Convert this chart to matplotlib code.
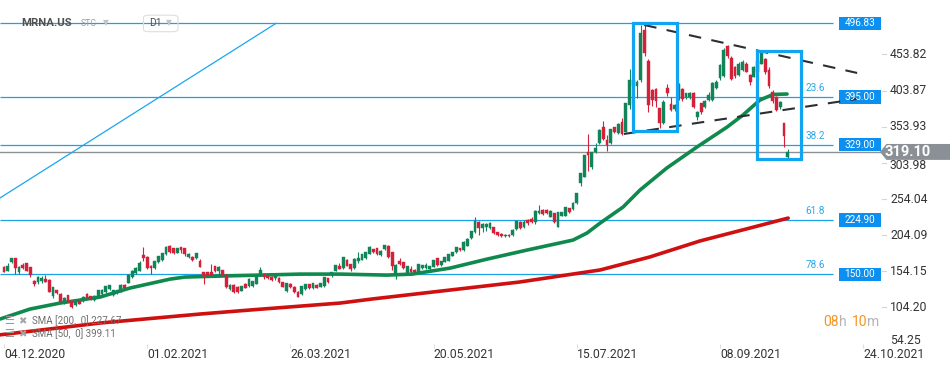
import numpy as np
import matplotlib.pyplot as plt
from matplotlib.patches import Rectangle, Polygon, FancyBboxPatch

plt.rcParams['font.family'] = ['Roboto', 'DejaVu Sans']

# daily candles, one per trading day, first bar = 04.12.2020
opens = [159.6, 155.0, 166.5, 172.1, 152.7, 162.8, 165.1, 159.6, 140.3, 138.9,
         141.2, 143.5, 142.1, 120.5, 128.3, 122.8, 110.8, 120.9, 113.1, 107.6,
         113.6, 112.6, 122.8, 119.5, 114.0, 120.0, 123.2, 125.1, 129.7, 121.4,
         123.7, 126.0, 135.2, 138.4, 146.7, 151.3, 155.0, 176.7, 174.4, 161.5,
         158.2, 166.5, 169.7, 178.0, 189.1, 185.9, 179.9, 187.3, 185.9, 173.4,
         174.4, 172.1, 168.4, 152.7, 152.7, 152.7, 161.0, 154.5, 155.9, 149.0,
         129.2, 135.2, 132.9, 127.4, 136.6, 133.8, 133.8, 137.1, 149.0, 149.0,
         148.1, 146.3, 144.4, 145.3, 139.4, 126.9, 136.6, 132.9, 126.0, 122.3,
         129.7, 136.1, 130.6, 135.7, 132.9, 133.8, 144.4, 148.9, 154.5, 161.9,
         159.1, 169.7, 163.7, 159.1, 168.8, 170.1, 172.0, 178.4, 184.4, 185.8,
         176.1, 184.9, 189.0, 180.3, 149.9, 168.3, 166.5, 152.2, 157.2, 155.9,
         152.6, 158.6, 158.2, 157.2, 160.5, 172.0, 162.8, 167.4, 168.8, 175.7,
         180.3, 186.3, 183.5, 189.5, 199.6, 207.9, 221.7, 213.4, 215.3, 213.4,
         214.9, 208.0, 206.0, 203.0, 205.0, 204.3, 212.2, 222.7, 214.9, 225.0,
         226.0, 221.8, 234.3, 238.9, 238.9, 229.7, 234.3, 215.8, 231.0, 231.0,
         241.1, 239.8, 248.1, 276.6, 284.9, 319.4, 298.7, 318.5, 331.0, 353.1,
         335.6, 331.0, 353.1, 344.8, 360.9, 347.1, 384.0, 418.0, 410.0, 418.5,
         487.6, 445.2, 404.7, 405.6, 379.3, 358.6, 406.9, 385.3, 378.0, 393.0,
         406.1, 394.5, 394.5, 400.1, 367.8, 386.2, 381.6, 390.9, 390.9, 408.0,
         420.8, 424.0, 465.0, 449.0, 437.0, 425.0, 432.0, 441.0, 426.0, 423.0,
         430.0, 441.0, 447.0, 432.0, 402.0, 395.0, 381.0, 358.6, 312.5]
highs = [162.0, 166.0, 173.0, 173.0, 161.0, 165.6, 166.0, 160.0, 142.1, 148.0,
         147.2, 149.0, 143.0, 133.0, 129.0, 123.5, 118.5, 121.5, 114.0, 115.0,
         114.5, 119.5, 124.0, 120.5, 121.5, 128.5, 129.5, 134.5, 135.5, 128.5,
         128.5, 136.0, 136.0, 150.0, 156.0, 160.0, 168.4, 187.3, 175.0, 162.5,
         169.0, 175.5, 180.0, 189.0, 190.0, 187.0, 187.0, 188.0, 187.0, 179.0,
         175.5, 180.0, 171.5, 153.5, 153.5, 163.8, 162.0, 161.0, 156.5, 150.0,
         136.0, 136.0, 134.0, 134.5, 137.5, 144.5, 141.0, 149.0, 160.1, 152.0,
         149.0, 147.0, 150.0, 146.0, 140.0, 138.5, 137.5, 133.5, 127.0, 134.5,
         137.0, 137.0, 138.0, 136.5, 138.5, 146.5, 145.0, 153.5, 163.5, 165.0,
         174.5, 170.5, 164.5, 172.0, 180.2, 178.5, 181.0, 188.5, 185.0, 186.5,
         183.0, 190.5, 190.0, 181.0, 164.0, 172.0, 167.5, 162.0, 161.0, 157.0,
         164.5, 163.5, 166.0, 162.0, 170.0, 172.5, 169.0, 174.0, 178.5, 181.0,
         188.0, 187.0, 196.0, 200.0, 210.5, 229.1, 223.5, 221.0, 221.0, 222.0,
         216.0, 209.0, 207.0, 206.0, 206.0, 212.0, 224.5, 224.0, 225.0, 226.0,
         228.7, 238.5, 246.3, 240.0, 240.0, 238.5, 235.0, 236.5, 236.5, 243.5,
         242.0, 250.0, 262.5, 290.5, 315.5, 343.3, 319.5, 330.8, 350.5, 361.4,
         342.6, 351.0, 354.0, 358.5, 366.0, 387.0, 434.0, 421.0, 418.0, 494.5,
         497.5, 447.0, 406.0, 407.0, 380.0, 391.0, 413.0, 395.4, 386.0, 414.0,
         407.0, 401.0, 401.5, 402.0, 376.0, 387.0, 391.0, 402.0, 416.0, 418.0,
         440.0, 462.0, 467.0, 452.0, 438.0, 443.0, 446.0, 443.0, 427.0, 438.0,
         447.0, 460.0, 449.0, 437.0, 404.0, 397.0, 390.0, 359.5, 322.5]
lows = [152.7, 154.0, 165.0, 151.0, 151.0, 157.0, 154.0, 145.8, 134.3, 137.0,
        138.0, 139.0, 125.0, 117.7, 123.0, 111.0, 109.5, 111.5, 104.0, 105.7,
        108.5, 111.5, 116.0, 115.0, 113.0, 119.0, 122.0, 124.0, 128.5, 120.5,
        122.5, 125.0, 130.5, 137.5, 145.5, 150.0, 154.0, 168.4, 158.0, 150.4,
        157.0, 165.5, 168.5, 177.0, 180.0, 178.5, 179.0, 179.9, 175.0, 172.0,
        169.0, 171.0, 159.5, 136.0, 147.0, 148.0, 153.0, 145.8, 147.0, 131.0,
        128.5, 124.6, 124.0, 126.5, 130.5, 132.5, 133.0, 136.0, 148.0, 143.5,
        143.0, 141.0, 142.0, 138.0, 132.0, 126.0, 131.0, 124.0, 118.0, 121.5,
        129.0, 129.5, 130.0, 131.0, 132.0, 133.0, 138.0, 146.0, 154.0, 157.0,
        158.0, 161.0, 155.0, 158.0, 165.5, 169.5, 171.0, 177.5, 179.5, 176.5,
        175.0, 184.0, 172.5, 155.4, 144.1, 163.0, 157.0, 151.0, 152.0, 152.0,
        152.0, 157.5, 157.5, 156.5, 159.5, 162.0, 162.0, 166.5, 168.0, 175.0,
        179.5, 182.0, 182.5, 188.5, 199.0, 207.0, 204.6, 208.0, 210.0, 212.0,
        206.0, 203.0, 201.0, 202.0, 202.0, 203.0, 211.0, 212.0, 214.0, 218.0,
        221.0, 220.0, 233.0, 232.0, 233.0, 228.5, 221.0, 215.0, 230.0, 230.0,
        235.0, 239.0, 247.0, 272.2, 284.0, 292.1, 294.9, 317.0, 330.0, 335.0,
        320.6, 329.5, 345.0, 344.0, 343.0, 346.0, 379.0, 394.0, 394.0, 416.0,
        452.0, 374.7, 383.0, 381.0, 351.7, 357.0, 396.0, 375.0, 376.0, 391.0,
        390.0, 392.0, 392.0, 380.0, 363.0, 371.5, 380.0, 389.0, 390.0, 406.0,
        419.0, 423.0, 449.0, 418.0, 421.0, 424.0, 431.0, 429.0, 412.0, 422.0,
        428.0, 440.0, 427.0, 408.0, 387.0, 375.0, 378.0, 325.6, 308.8]
closes = [153.6, 161.5, 172.1, 158.2, 159.6, 158.2, 155.0, 149.0, 137.1, 146.7,
          145.3, 139.8, 126.0, 132.0, 124.6, 112.2, 117.7, 112.2, 105.3, 114.0,
          109.4, 118.6, 116.8, 115.9, 120.5, 127.8, 128.8, 133.4, 134.8, 127.8,
          127.8, 135.2, 131.5, 149.0, 155.0, 159.2, 165.1, 172.1, 159.2, 158.2,
          168.4, 174.8, 179.0, 188.2, 181.3, 179.9, 185.9, 183.6, 178.0, 178.0,
          169.7, 179.0, 160.5, 149.0, 149.0, 149.0, 154.5, 160.1, 148.1, 132.0,
          135.2, 126.0, 125.1, 133.8, 131.5, 143.5, 140.3, 148.1, 155.9, 146.7,
          144.4, 142.1, 149.0, 138.9, 132.9, 137.5, 132.0, 125.1, 119.1, 133.8,
          136.1, 130.6, 137.5, 131.5, 137.5, 145.8, 138.9, 152.6, 162.8, 157.7,
          173.8, 161.9, 157.2, 171.1, 172.9, 177.5, 180.3, 187.6, 180.3, 177.5,
          182.1, 189.9, 173.4, 161.4, 162.8, 163.7, 159.1, 161.4, 152.6, 152.6,
          163.7, 162.8, 162.8, 161.4, 169.2, 162.8, 168.3, 173.4, 177.5, 180.3,
          187.2, 183.0, 195.0, 199.2, 209.8, 224.0, 213.4, 219.9, 219.9, 220.8,
          207.5, 204.3, 203.4, 205.0, 203.0, 211.2, 223.6, 213.5, 222.7, 220.4,
          222.7, 237.5, 237.5, 232.9, 234.3, 237.5, 222.7, 235.6, 235.6, 242.5,
          236.6, 249.0, 261.9, 289.5, 314.8, 314.8, 318.5, 325.0, 349.4, 336.5,
          328.7, 350.3, 346.2, 357.7, 343.9, 386.3, 418.5, 410.0, 416.0, 483.0,
          455.3, 383.9, 390.8, 389.5, 358.6, 388.5, 400.0, 377.0, 384.0, 413.0,
          392.2, 400.0, 400.1, 380.7, 374.7, 373.8, 389.9, 397.8, 414.8, 416.0,
          439.2, 460.0, 451.0, 420.0, 424.0, 441.0, 444.0, 430.0, 416.0, 437.0,
          445.0, 457.0, 429.0, 410.0, 389.0, 377.0, 388.0, 341.0, 319.1]

# moving averages (bar index, value)
sma50_x = [-1.06, 6.9, 14.9, 25.5, 33.4, 44.1, 48.0, 57.3, 67.9, 78.6, 89.2,
           101.6, 108.3, 118.4, 128.2, 138.8, 151.0, 154.7, 158.2, 164.3,
           168.8, 175.9, 183.9, 191.9, 196.1, 200.6, 204.1, 207.8]
sma50_y = [88.2, 102.0, 110.3, 118.6, 131.0, 143.4, 146.2, 147.6, 148.9, 150.3,
           150.3, 148.9, 150.3, 158.6, 171.0, 183.5, 197.3, 207.0, 220.8, 243.0,
           266.5, 296.9, 325.9, 353.5, 370.1, 390.8, 398.5, 399.1]
sma200_x = [-1.06, 25.5, 52.0, 65.3, 89.2, 97.7, 118.4, 136.9, 158.2, 171.4,
            184.7, 198.0, 208.1]
sma200_y = [66.4, 82.7, 95.1, 100.7, 110.3, 115.9, 128.3, 139.4, 156.0, 174.0,
            196.1, 214.0, 227.7]

date_ticks = [0, 38, 76, 114, 152, 190, 228]
date_labels = ['04.12.2020', '01.02.2021', '26.03.2021', '20.05.2021',
               '15.07.2021', '08.09.2021', '24.10.2021']
price_ticks = [453.82, 403.87, 353.93, 303.98, 254.04, 204.09, 154.15, 104.20, 54.25]

levels = [496.83, 395.00, 329.00, 224.90, 150.00]
fib_names = ['', '23.6', '38.2', '61.8', '78.6']
last_price = 319.10

# drawings (bar index, price)
ray_x, ray_y = [-1.06, 72.2], [255.5, 496.8]
upper_x, upper_y = [169.9, 226.4], [494.5, 428.2]
lower_x, lower_y = [164.5, 226.4], [343.9, 392.3]
boxes = [(166.9, 348.4, 178.5, 497.7), (199.8, 309.3, 211.5, 458.5)]

GREEN = '#11845a'
RED = '#d3213a'
BLUE = '#1ba1e6'
TAG = '#0b8ff0'

fig = plt.figure(figsize=(9.5, 3.67), dpi=100)
ax = fig.add_axes([0, 23.2 / 367, 882 / 950, 343.8 / 367])
ax.set_xlim(-1.06, 233.0)
ax.set_ylim(54, 529)
for s in ax.spines.values():
    s.set_visible(False)

# horizontal levels
ax.hlines(levels, -1.06, 220.0, color=BLUE, lw=0.9, zorder=1)
ax.axhline(last_price, color='#8c9196', lw=1.0, zorder=1)
for lv, nm in zip(levels, fib_names):
    ax.add_patch(Rectangle((221.6, lv - 9.2), 11.1, 18.4, fc=TAG, ec='none', zorder=5))
    ax.text(227.15, lv, f'{lv:.2f}', ha='center', va='center', color='white',
            fontsize=7.2, zorder=6)
    if nm:
        ax.annotate(nm, (217.9, lv), xytext=(0, 9), textcoords='offset pixels',
                    ha='right', va='center', color='#2aa8e8', fontsize=7.2)

# moving averages
ax.plot(sma200_x, sma200_y, color='#cf1010', lw=2.6, zorder=2, solid_capstyle='round')
ax.plot(sma50_x, sma50_y, color='#0f8a4c', lw=2.6, zorder=2, solid_capstyle='round')

# candles
o, h, l, c = map(np.array, (opens, highs, lows, closes))
idx = np.arange(len(o))
col = np.where(c >= o, GREEN, RED)
ax.vlines(idx, l, h, colors=col, lw=0.8, zorder=3)
ax.bar(idx, np.maximum(np.abs(c - o), 1.0), bottom=np.minimum(o, c), width=0.74,
       color=col, edgecolor=col, linewidth=0.3, zorder=4)

# user drawings
ax.plot(ray_x, ray_y, color='#18a7f0', lw=0.9, zorder=2)
ax.plot(upper_x, upper_y, color='#2b2f33', lw=1.5, ls=(0, (6, 5)), zorder=5)
ax.plot(lower_x, lower_y, color='#2b2f33', lw=1.5, ls=(0, (6, 5)), zorder=5)
for x0, y0, x1, y1 in boxes:
    ax.add_patch(Rectangle((x0, y0), x1 - x0, y1 - y0, fill=False, ec='#11a4f0',
                           lw=2.3, zorder=6))

# axes ticks
ax.set_xticks(date_ticks, date_labels, ha='left')
ax.tick_params(axis='x', length=3, color='#dddddd', pad=0, labelsize=8.7,
               labelcolor='#333333')
ax.set_yticks([])
ytr = ax.get_yaxis_transform()
for i, p in enumerate(price_ticks):
    last = i == len(price_ticks) - 1
    # the label just under the last-price tag sits partly behind it, as in the source
    dy = -3.0 if abs(p - last_price) < 20 else 0.0
    ax.text(1.009, p + dy, f'{p:.2f}', transform=ytr, ha='left',
            va='baseline' if last else 'center', color='#333333', fontsize=8.7,
            clip_on=False, zorder=1)
    if not last:
        ax.plot([0.9995, 1.0045], [p, p], transform=ytr, color='#d5d5d5', lw=0.8,
                clip_on=False)

# last price tag
ax.add_patch(Polygon([(0.9977, last_price), (1.0050, last_price + 11.0),
                      (1.08, last_price + 11.0), (1.08, last_price - 11.0),
                      (1.0050, last_price - 11.0)], closed=True, transform=ytr,
                     fc='#8a9095', ec='none', clip_on=False, zorder=7))
ax.text(1.0285, last_price, f'{last_price:.2f}', transform=ytr, ha='center',
        va='center', color='white', fontsize=10.5, fontweight='bold',
        clip_on=False, zorder=8)

# header
fig.text(21 / 950, 1 - 23 / 367, 'MRNA.US', color='#505050', fontsize=8.2,
         fontweight='bold', va='center')
fig.text(81 / 950, 1 - 24 / 367, 'STC', color='#a0a0a0', fontsize=6.3, va='center')
fig.text(103 / 950, 1 - 23 / 367, '▼', color='#c4c4c4', fontsize=5.5, va='center',
         family='DejaVu Sans')
fig.patches.append(FancyBboxPatch((143.5 / 950, 1 - 31.7 / 367), 34.5 / 950, 16.5 / 367,
                                  boxstyle='round,pad=0,rounding_size=0.006',
                                  transform=fig.transFigure, fc='none', ec='#dedede',
                                  lw=0.8))
fig.text(149 / 950, 1 - 23.5 / 367, 'D1', color='#505050', fontsize=7.5, va='center')
fig.text(166 / 950, 1 - 23 / 367, '▼', color='#c4c4c4', fontsize=5.5, va='center',
         family='DejaVu Sans')

# indicator legend
for ypx, txt in [(321, 'SMA [200,  0] 227.67'), (334, 'SMA [50,  0] 399.11')]:
    fig.text(4 / 950, 1 - ypx / 367, '☰', color='#9a9a9a', fontsize=8, va='center',
             family='DejaVu Sans')
    fig.text(18.5 / 950, 1 - ypx / 367, '✖', color='#a5a5a5', fontsize=7.2, va='center',
             family='DejaVu Sans')
    fig.text(32 / 950, 1 - ypx / 367, txt, color='#6e6e6e', fontsize=7, va='center')

# session countdown
for xpx, part, pc in [(823, '08', '#f7941d'), (838.5, 'h', '#b5b5b5'),
                      (852, '10', '#f7941d'), (867, 'm', '#b5b5b5')]:
    fig.text(xpx / 950, 1 - 322 / 367, part, color=pc, fontsize=10, va='center')

fig.savefig('out.png', dpi=100, facecolor='white')
